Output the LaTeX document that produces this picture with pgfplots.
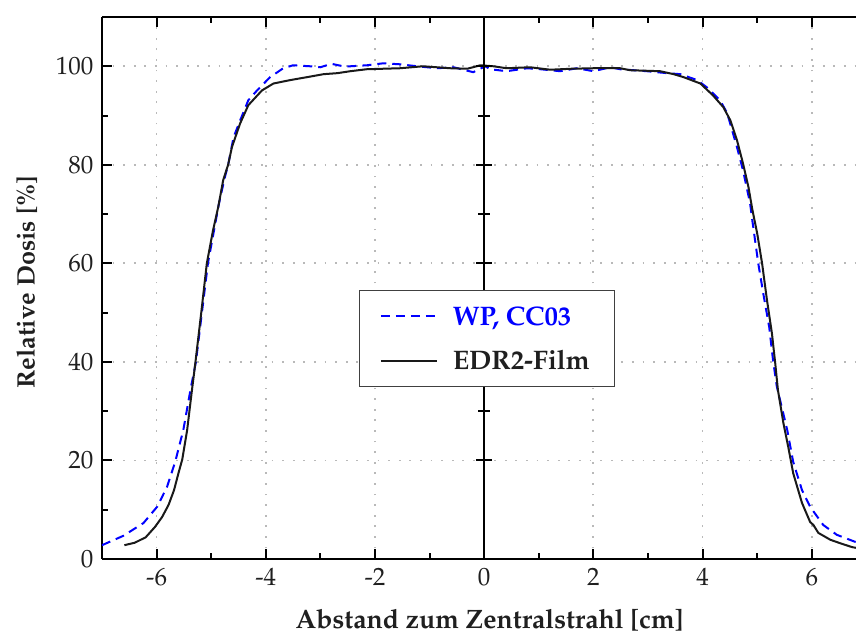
\documentclass[border=0pt]{standalone}
\usepackage[T1]{fontenc}
\usepackage{mathpazo}
\usepackage{pgfplots}
\pgfplotsset{compat=1.18}
\pgfplotstableread{
x y
-6.59 2.8
-6.40 3.3
-6.20 4.4
-6.03 6.5
-5.90 8.5
-5.78 11.0
-5.68 14.0
-5.60 17.4
-5.53 20.2
-5.44 26.2
-5.35 34.5
-5.29 39.8
-5.18 50.2
-5.08 60.0
-4.97 66.5
-4.87 71.5
-4.78 76.9
-4.69 80.0
-4.62 83.6
-4.47 88.4
-4.32 92.1
-4.07 95.1
-3.86 96.5
-3.55 97.2
-3.24 97.8
-2.94 98.4
-2.69 98.6
-2.45 99.0
-2.15 99.4
-1.54 99.6
-1.12 100.0
-0.62 99.6
-0.31 99.5
-0.07 100.2
0.17 100.0
0.41 99.6
0.84 99.8
1.21 99.3
1.60 99.5
2.00 99.6
2.49 99.6
2.67 99.2
3.22 99.0
3.47 98.4
3.65 97.8
3.96 96.5
4.19 94.1
4.38 91.7
4.51 89.0
4.63 85.0
4.74 80.3
4.84 75.5
4.91 71.0
5.00 66.1
5.09 60.0
5.18 52.5
5.27 45.8
5.33 39.8
5.38 34.3
5.48 27.6
5.57 22.7
5.66 17.4
5.82 11.4
5.97 7.5
6.03 6.9
6.12 5.3
6.34 3.9
6.52 3.2
6.74 2.4
6.90 2.1
}\film
\pgfplotstableread{
x y
-7.00 2.8
-6.61 4.7
-6.24 7.3
-5.99 10.6
-5.81 14.6
-5.66 19.7
-5.51 26.2
-5.38 34.3
-5.28 40.0
-5.06 60.0
-4.86 72.0
-4.76 77.0
-4.68 80.5
-4.59 85.6
-4.47 89.0
-4.32 93.1
-4.16 95.1
-3.92 97.8
-3.68 99.6
-3.50 100.2
-3.19 100.0
-3.00 99.8
-2.80 100.5
-2.58 100.0
-2.45 100.0
-2.15 100.2
-1.85 100.6
-1.54 100.4
-1.23 100.0
-0.86 99.6
-0.56 99.8
-0.20 98.8
0.02 100.0
0.11 99.4
0.41 99.0
0.79 99.6
1.03 99.4
1.39 99.0
1.70 99.6
2.00 99.0
2.31 99.8
2.49 99.4
2.98 99.0
3.35 98.6
3.59 98.4
3.90 97.2
4.08 95.7
4.32 93.1
4.45 90.5
4.63 83.6
4.74 78.9
4.87 72.2
4.91 68.8
5.02 60.0
5.11 54.0
5.22 47.1
5.29 40.4
5.36 35.0
5.55 26.2
5.66 19.7
5.82 14.0
5.97 10.6
6.21 6.9
6.46 4.9
6.79 3.5
7.00 3.0
}\wp
\begin{document}
\fontsize{12.5}{15}\selectfont
\begin{tikzpicture}
\pgfplotsset{every axis/.append style={scale only axis, width=377pt, height=271pt,
  xmin=-7, xmax=6.81, ymin=0, ymax=110}}
\begin{axis}[name=ax,
  axis y line*=left,
  axis line style={line width=1pt},
  xtick={-6,-4,-2,0,2,4,6},
  xticklabels={-6,-4,-2,0,2,4,6},
  ytick={0,20,40,60,80,100},
  minor x tick num=1, minor y tick num=1,
  tick align=inside,
  major tick length=5pt, minor tick length=3pt,
  every tick/.style={black, line width=1pt},
  grid=major,
  major grid style={gray!55, line width=0.9pt, dash pattern=on 0.9pt off 4.4pt},
  ticklabel style={font=\fontsize{12.5}{15}\selectfont, text=black!88},
  xlabel={\textbf{Abstand zum Zentralstrahl [cm]}},
  ylabel={\textbf{Relative Dosis [\%]}},
  xlabel style={at={([yshift=-30.5pt]axis cs:0.1,0)}, anchor=center, text=black!88, font=\fontsize{13.3}{15}\selectfont},
  ylabel style={at={([xshift=-37.5pt, yshift=3pt]axis description cs:0,0.5)}, anchor=center, text=black!88, font=\fontsize{12.6}{15}\selectfont},
]
\addplot[blue, line width=1pt, dash pattern=on 4.5pt off 3pt] table[x=x,y=y] {\wp};
\addplot[black!90, line width=1pt] table[x=x,y=y] {\film};
\end{axis}
\begin{axis}[
  axis x line=none, axis y line=middle,
  axis line style={line width=1pt, -},
  ytick={20,40,60,80,100}, yticklabels={},
  minor y tick num=1,
  tick align=center,
  major tick length=8pt, minor tick length=6pt,
  every tick/.style={black, line width=1pt},
]
\end{axis}
\begin{axis}[
  hide axis,
  legend cell align=left,
  legend image code/.code={\draw[#1] (0pt,0pt) -- (28pt,0pt);},
  legend style={at={(axis cs:-2.29,54.6)}, anchor=north west,
    draw=black!75, line width=0.6pt, fill=white,
    inner xsep=10pt, inner ysep=5.5pt, row sep=7pt,
    font=\bfseries\fontsize{13.4}{15}\selectfont,
    nodes={inner sep=2.5pt, text depth=0.5pt},
    /tikz/every odd column/.append style={column sep=5pt}},
]
\addlegendimage{blue, line width=1pt, dash pattern=on 4.5pt off 3pt}
\addlegendentry{\textcolor{blue}{WP, CC03}}
\addlegendimage{black!90, line width=1pt}
\addlegendentry{\textcolor{black!88}{EDR2-Film}}
\end{axis}
\pgfresetboundingbox
\useasboundingbox ([xshift=-51pt, yshift=-36.5pt]ax.south west) rectangle ([yshift=8.5pt]ax.north east);
\end{tikzpicture}
\end{document}
